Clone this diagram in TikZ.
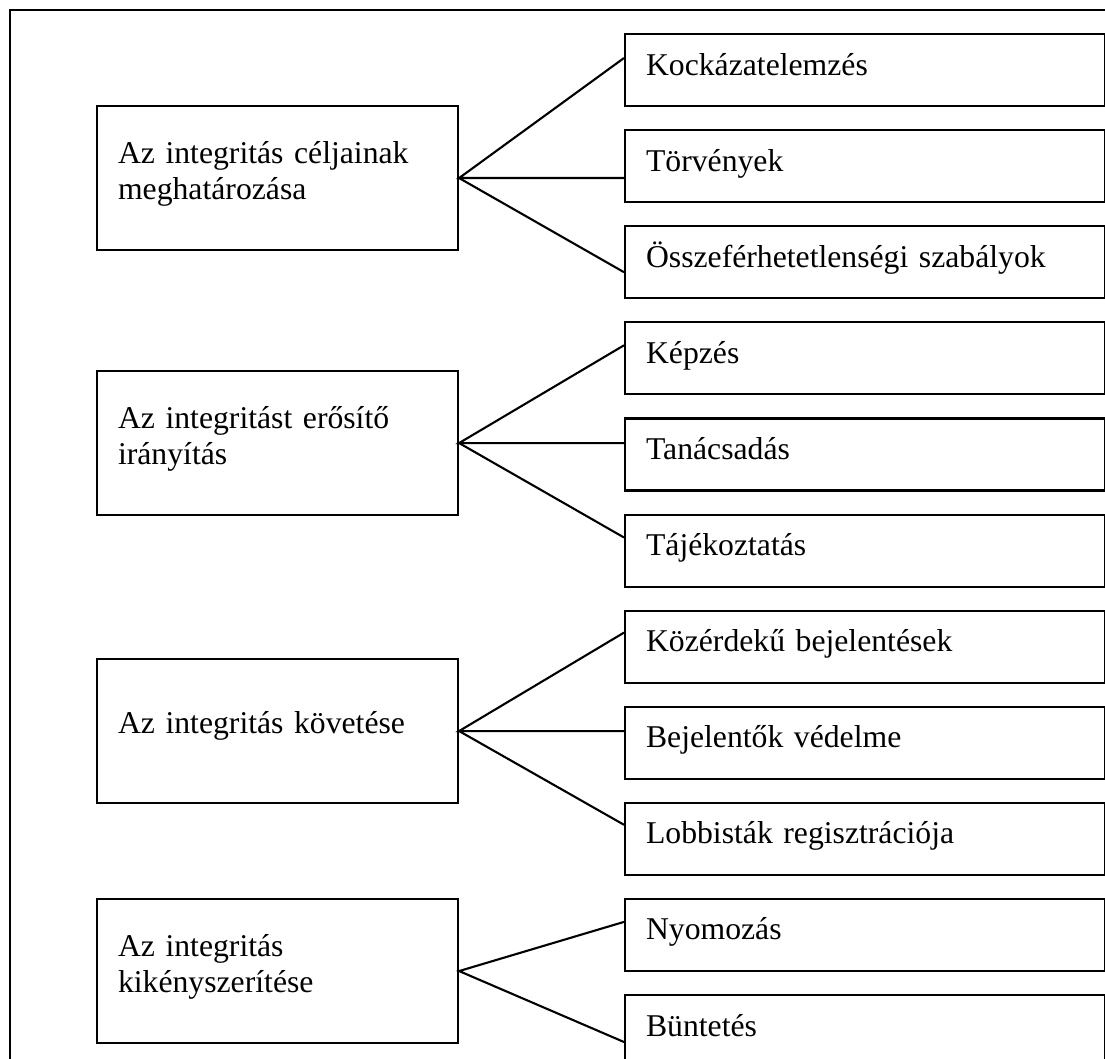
\documentclass[tikz,border=0pt]{standalone}
\usepackage{fontspec}
\setmainfont{Liberation Serif}
\usetikzlibrary{calc}
\tikzset{
  ln/.style={line width=2.1pt},
  lbox/.style={draw, ln, anchor=north west, inner xsep=21pt, inner ysep=0pt,
    text width=319pt, align=left, text height=57pt, text depth=87pt,
    font=\fontsize{31.7}{36.8}\selectfont},
  lbox1/.style={lbox, text height=74pt, text depth=70pt},
  rbox/.style={draw, ln, anchor=north west, inner xsep=21pt, inner ysep=0pt,
    text width=438pt, align=left, text height=41pt, text depth=31pt,
    font=\fontsize{31.7}{36.8}\selectfont},
}
\begin{document}
\begin{tikzpicture}[x=1pt, y=-1pt]
\useasboundingbox (0,0) rectangle (1105,1059);
\clip (0,0) rectangle (1105,1059);
\fill[white] (0,0) rectangle (1105,1059);
% outer frame (cropped at right and bottom)
\draw[ln] (10,1200) -- (10,10) -- (1200,10);

% left boxes
\node[lbox]  (b1) at (96,105) {Az integritás céljainak\\meghatározása};
\node[lbox]  (b2) at (96,370) {Az integritást erősítő\\irányítás};
\node[lbox1] (b3) at (96,658) {Az integritás követése};
\node[lbox]  (b4) at (96,898) {Az integritás\\kikényszerítése};

% right boxes
\node[rbox] (r11) at (624,33)    {Kockázatelemzés};
\node[rbox] (r12) at (624,129.1) {Törvények};
\node[rbox] (r13) at (624,225.2) {Összeférhetetlenségi szabályok};
\node[rbox] (r21) at (624,321.3) {Képzés};
\node[rbox] (r22) at (624,417.4) {Tanácsadás};
\node[rbox] (r23) at (624,513.5) {Tájékoztatás};
\node[rbox] (r31) at (624,609.6) {Közérdekű bejelentések};
\node[rbox] (r32) at (624,705.7) {Bejelentők védelme};
\node[rbox] (r33) at (624,801.8) {Lobbisták regisztrációja};
\node[rbox] (r41) at (624,897.9) {Nyomozás};
\node[rbox] (r42) at (624,994)   {Büntetés};

% connectors
\draw[ln] ([yshift=-25pt]r11.north west) -- (b1.east) -- (b1.east -| r12.west);
\draw[ln] (b1.east) -- ([yshift=-47pt]r13.north west);

\draw[ln] ([yshift=-24pt]r21.north west) -- (b2.east) -- (b2.east -| r22.west);
\draw[ln] (b2.east) -- ([yshift=-24pt]r23.north west);

\draw[ln] ([yshift=-23pt]r31.north west) -- (b3.east) -- (b3.east -| r32.west);
\draw[ln] (b3.east) -- ([yshift=-23pt]r33.north west);

\draw[ln] ([yshift=-24pt]r41.north west) -- (b4.east) -- ([yshift=-48pt]r42.north west);
\end{tikzpicture}
\end{document}
